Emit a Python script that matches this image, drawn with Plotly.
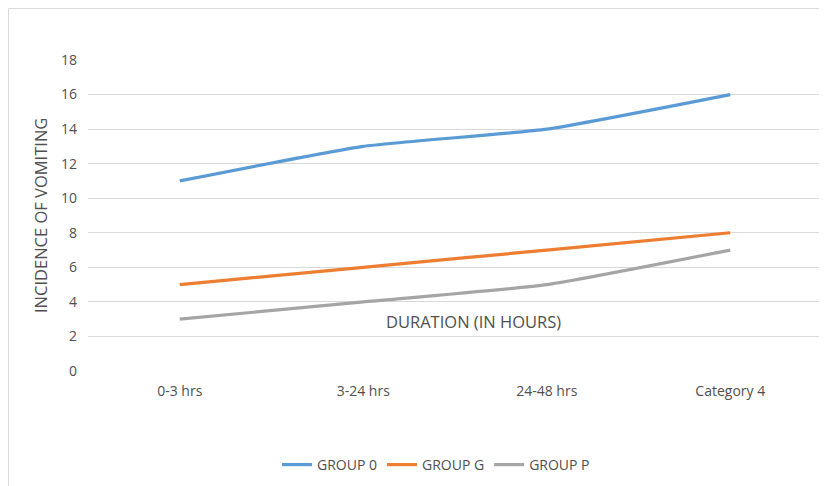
import plotly.graph_objects as go

categories = ["0-3 hrs", "3-24 hrs", "24-48 hrs", "Category 4"]
group_0 = [11, 13, 14, 16]
group_g = [5, 6, 7, 8]
group_p = [3, 4, 5, 7]
series_names = ["GROUP 0", "GROUP G", "GROUP P"]
colors = ["#5B9BD5", "#ED7D31", "#A5A5A5"]

OFF = 8  # page body margin
W, H = 827 - OFF, 486 - OFF
# plot area in screen pixels: x 88..822, y 60..371
L, R, T, B = 88 - OFF, 827 - 822, 60 - OFF, 486 - 371
pw, ph = W - L - R, H - T - B

def px_x(x):
    return (x - OFF - L) / pw

def px_y(y):
    return (H - B - (y - OFF)) / ph

fig = go.Figure()
for name, vals, c in zip(series_names, [group_0, group_g, group_p], colors):
    fig.add_trace(go.Scatter(x=categories, y=vals, name=name, mode="lines",
                             line=dict(color=c, width=3.2, shape="spline", smoothing=0.45)))

font = "Open Sans, Liberation Sans, sans-serif"
txt = "#505050"
fig.update_layout(
    width=W, height=H,
    margin=dict(l=L, r=R, t=T, b=B, autoexpand=False),
    paper_bgcolor="white", plot_bgcolor="white",
    font=dict(family=font, size=14, color=txt),
    showlegend=True,
    legend=dict(orientation="h", x=px_x(436), xanchor="center", y=px_y(465), yanchor="middle",
                font=dict(size=14, color=txt), itemwidth=30),
    xaxis=dict(showgrid=False, zeroline=False, showline=False, ticks="",
               range=[-0.5, 3.5], ticklabelstandoff=10,
               tickfont=dict(size=14, color=txt)),
    yaxis=dict(range=[0, 18], dtick=2, showgrid=True, gridcolor="#D9D9D9", gridwidth=1,
               zeroline=False, showline=False, ticks="", ticklabelstandoff=10,
               tickfont=dict(size=14, color=txt)),
    annotations=[
        dict(text="INCIDENCE OF VOMITING", xref="paper", yref="paper",
             x=px_x(40), y=px_y(216), textangle=-90, showarrow=False,
             font=dict(size=16.5, color=txt), xanchor="center", yanchor="middle"),
        dict(text="DURATION (IN HOURS)", xref="paper", yref="paper",
             x=px_x(473), y=px_y(321), showarrow=False,
             font=dict(size=16.5, color=txt), xanchor="center", yanchor="middle"),
    ],
    shapes=[dict(type="rect", xref="paper", yref="paper",
                 x0=px_x(8.5), x1=px_x(840), y0=px_y(500), y1=px_y(8.5),
                 line=dict(color="#D9D9D9", width=1), layer="below")],
)
fig.write_html("out.html")
